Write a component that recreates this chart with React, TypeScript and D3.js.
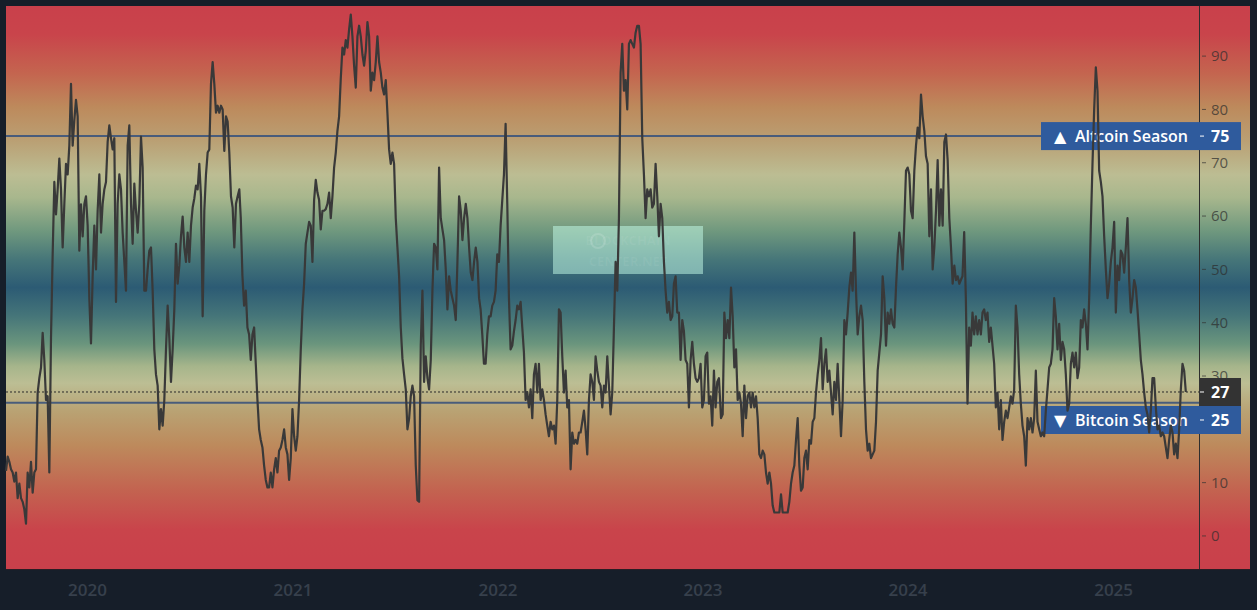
import React from "react";
import * as d3 from "d3";

const W = 1257;
const H = 610;

// Altcoin season index, sampled every STEP_DAYS days, five consecutive stretches
const SERIES_A = [12.2,14.9,13.9,12.5,11.9,10.2,11.9,7.1,9.8,7.1,6.4,5,2.3,11.9,9.1,13.9,8.1,11.9,12.5,26.9,29.6,31.6,38.1,33,25.5,26.2,11.9,37.1,52.8,66.4,60.3,65,70.8,65,54.1,62.2,69.8,67.8,73.2,84.8,73.2,78,81.8,78.7,53.5,62.2,56.2,62.2,63.7,58.2,44.6,36.1,48.7,58.2,50,61,67.8,56.9,62.3,65,66.4,73.9,77,74.6,72.5,74.6,43.9,62.3,67.8,65,56.9,51.4,46,73.2,77,62.3,54.8,66.1,61,56.9,62.3,74.9,69.1,46,46,50,53.5,54.1,46,35,30.3,28.2,20,23.8,20.7,25.5,35,43.2,37.1,28.9,35,42.5,54.8,47.3,50.7,56.2,59.9,54.1,51.4,56.9,51.4,58.2,61.6,63.3,65.7,65,69.8,63.7,41.2,61,67.8,71.9,72.5,84.8,88.9,84.8,79.4,80.7,79.4,80.7,80,72.2,78.7,77.7,71.9,63.7,61.6,54.1,62.3,63.7,65];
const SERIES_B = [59.6,48.7,43.2,46,39.1,37.8,33,37.8,39.1,32.3,25.5,20,18,16.6,13.2,10.5,9.1,9.1,11.9,9.1,12.5,14.6,11.9,16,16.6,18,20,16.6,15.3,10.5,14.6,23.8,18.7,16,18.7,25.5,35,42.5,47.3,54.8,56.9,58.9,58.2,51.4,63,66.8,64.4,63,57.5,61,61,61.3,62.3,64.4,59.6,63.7,69.1,71.9,76,78.7,85.8,91.6,90.3,93,91.6,95,97.8,93.7,88.2,84.1,93.7,95.7,93.7,90.3,88.2,91,96.4,93.7,83.5,86.9,85.5,88.9,93.7,88.9,86.9,84.1,82.8,85.5,79.3,72.5,69.8,71.9,69.8,59.6,54.1,48.7,39.1,33.3,30.3,27.5,20,22,26.2,28.2,26.2,13.2,6.7,6.4,35.7,46,28.9,33.7,29.6,27.5,33,46,54.8,54.1,50,69.1,59.6,57.5,55.5,50,42.5,48.7,46,44.6,43.2,40.5,51.4,63.7,61,55.5,59.6,62.3,59.6,54.1,49.4,48,51.4,54.1,51.4,44.6];
const SERIES_C = [42.5,37.8,32.3,32.3,37.8,41.2,41.2,43.2,43.9,46,52.8,51.4,58.2,63,67.8,77.3,62.3,44.6,35,35.7,38.4,40.5,43.2,42.5,43.9,39.1,34.4,25.5,27,24.1,27.5,22.1,30.3,32.3,26.9,32.3,25.5,27.5,25.5,22.8,20.7,18.7,21.4,20,20.7,17.3,25.5,42.5,41.9,33.7,26.9,31,24.1,25.5,12.5,19.4,17.3,18,17.3,19.4,19.4,21.4,23.5,20,15.3,25.5,30.3,28.9,25.5,33.7,31,28.9,28.2,24.1,28.2,26.9,33.7,28.2,22.8,26.9,39.1,51.4,46,59.6,86.9,92.3,83.5,85.5,80,92.3,93,92.3,91.6,94.4,95.7,95.7,92.3,74.6,67.8,59.6,65,63.7,65,61.6,62.3,69.8,63.7,56.2,62.3,59.6,51.4,46,41.9,43.9,40.5,41.2,47.3,48.7,41.9,41.9,33,40.5,38.4,33,32.3,24.1,33,36.4,32.3,29.6,28.9,29.6,32.3,24.1,25.5,33.7,34.4,24.8,26.2,20.7,31,24.1,28.9,29.6];
const SERIES_D = [22.1,22.8,41.9,37.1,40.5,37.1,46.6,41.2,31.6,35,25.5,26.9,24.8,18.7,28.2,22.1,26.2,26.9,24.1,26.9,24.1,26.2,22.1,15.3,14.6,16,15.3,11.9,9.8,11.9,9.8,5.7,4.4,4.4,4.4,4.4,7.8,4.4,4.4,4.4,4.4,6.4,9.8,11.9,13.2,18,22.1,13.2,8.5,9.1,14.6,16,12.5,18,17.3,21.4,22.1,26.9,30.3,33,37.1,27.5,32.3,35,28.9,31,26.9,22.8,28.9,25.5,32.3,25.5,18.7,25.5,40.5,37.8,41.9,46.6,49.4,46,56.9,46,37.8,41.2,43.2,40.5,28.9,20,16,17.3,14.6,15.3,16,21.4,31,34.4,37.8,48.7,44.6,35.7,41.9,39.8,42.5,39.8,39.1,46.6,52.8,56.9,54.1,50,58.9,68.5,69.1,67.8,61,59.6,68.5,73.2,76.6,74.6,82.8,78.7,76,71.2,69.8,56.2,65,50,54.1,61,70.5,58.2,65,58.2,73.9,75.3,70.5,59.6,54.1,47.3,50.7,48,48.7,47.3];
const SERIES_E = [48,48.7,57,44.6,24.8,39.1,35.7,41.9,37.8,41.2,37.8,40.5,37.8,41.9,42.5,40.5,41.9,36.4,39.1,35.7,32.3,24.1,26.9,20,25.5,18,21.4,23.5,22.1,24.1,26.2,24.8,27.5,43.2,39.1,30.3,24.8,20.7,18.7,13.2,22.1,20,22.1,19.4,22.1,31,21.4,20,18.7,19.4,18.7,23.5,27.5,31.6,32.3,35,44.6,41.2,35,39.8,33,36.4,35,30.3,23.5,24.8,32.3,34.4,31.6,34.4,29.6,31.6,40.5,39.1,42.5,39.8,35,44.6,58.2,69.8,80,87.9,83.5,68.5,66.4,63.7,56.2,50,44.6,47.3,51.4,54.1,58.9,41.9,50.7,48,53.5,52.8,49.4,54.1,59.6,48,41.9,44.6,48,46.6,42.5,37.8,33,30.3,26.9,24.1,22.8,19.4,23.5,29.6,29.6,24.1,20,20.7,18.7,19.4,18.7,16.6,14.6,18,20.7,19.4,15.3,17.3,14.6,20,27.5,32.3,31,27];
const SERIES = [SERIES_A, SERIES_B, SERIES_C, SERIES_D, SERIES_E];
const SERIES_STARTS = ["2019-08-09", "2020-09-30", "2021-12-01", "2023-02-02", "2024-04-04"];
const STEP_DAYS = 2.967;

const X_DOMAIN = ["2019-08-09", "2025-06-02"];
const YEAR_TICKS = ["2020", "2021", "2022", "2023", "2024", "2025"];
const Y_TICKS = [0, 10, 20, 30, 40, 50, 60, 70, 80, 90];
const Y_DOMAIN = [-6.2, 99.4];
const ALT_LEVEL = 75;
const BTC_LEVEL = 25;
const ALT_LABEL = "Altcoin Season";
const BTC_LABEL = "Bitcoin Season";

const parse = d3.timeParse("%Y-%m-%d");
const DAY = 86400000;

type Pt = { date: Date; value: number };

const data: Pt[] = [];
SERIES.forEach((vals, k) => {
  const start = parse(SERIES_STARTS[k])!.getTime();
  vals.forEach((v, j) => data.push({ date: new Date(start + j * STEP_DAYS * DAY), value: v }));
});
const LAST_VALUE = data[data.length - 1].value;

const PLOT = { left: 6, top: 6, right: 1250, bottom: 569, axisX: 1199 };

const GRADIENT_STOPS: [number, string][] = [
  [0, "#c9404b"], [0.05, "#c9444b"], [0.12, "#c4654f"], [0.18, "#bd8a5c"], [0.24, "#baa074"],
  [0.30, "#bcbd93"], [0.34, "#a8b78d"], [0.40, "#6f987e"], [0.45, "#467679"], [0.50, "#2c5b74"],
  [0.55, "#457579"], [0.60, "#6a957d"], [0.64, "#a6b58b"], [0.67, "#bcbe94"], [0.72, "#b9a273"],
  [0.78, "#bd8a5c"], [0.86, "#c36350"], [0.93, "#c9444b"], [1, "#c9404b"],
];

export default function App() {
  const x = d3.scaleTime()
    .domain(X_DOMAIN.map((d) => parse(d)!))
    .range([PLOT.left, PLOT.axisX]);
  const y = d3.scaleLinear().domain(Y_DOMAIN).range([PLOT.bottom, PLOT.top]);

  const line = d3.line<Pt>()
    .x((d) => x(d.date))
    .y((d) => y(d.value));

  const boxL = 1041, boxR = 1241, boxH = 28;
  const lastY = y(LAST_VALUE);
  const altY = y(ALT_LEVEL);
  const btcCenter = Math.max(y(BTC_LEVEL), lastY + boxH);
  const font = "'Open Sans', 'DejaVu Sans', sans-serif";

  // tick labels that sit entirely under a label box are not drawn (as in the source)
  const covered = (t: number) => {
    const ty = y(t);
    const boxes = [altY, lastY, btcCenter];
    return boxes.some((c) => ty - 4 >= c - boxH / 2 && ty + 4 <= c + boxH / 2);
  };

  return (
    <svg width={W} height={H} style={{ position: "absolute", left: 0, top: 0, display: "block" }}>
      <defs>
        <linearGradient id="bg" gradientUnits="userSpaceOnUse" x1={0} y1={PLOT.top} x2={0} y2={PLOT.bottom}>
          {GRADIENT_STOPS.map(([o, c], i) => <stop key={i} offset={o} stopColor={c} />)}
        </linearGradient>
        <clipPath id="above27">
          <rect x={PLOT.axisX} y={0} width={60} height={lastY - boxH / 2} />
        </clipPath>
      </defs>
      <rect x={0} y={0} width={W} height={H} fill="#161e29" />
      <rect x={PLOT.left} y={PLOT.top} width={PLOT.right - PLOT.left} height={PLOT.bottom - PLOT.top} fill="url(#bg)" />
      <line x1={PLOT.left} x2={PLOT.right} y1={PLOT.bottom + 0.5} y2={PLOT.bottom + 0.5} stroke="#2a1d24" strokeWidth={1} />

      {/* watermark */}
      <g>
        <rect x={553} y={226} width={150} height={48} fill="rgba(200,255,235,0.5)" />
        <circle cx={598} cy={241} r={7} fill="none" stroke="rgba(255,255,255,0.14)" strokeWidth={2} />
        <text x={628} y={245} fontFamily={font} fontSize={13} fill="rgba(255,255,255,0.06)" fontWeight={700} textAnchor="middle">BLOCKCHAIN</text>
        <text x={628} y={266} fontFamily={font} fontSize={13} fill="rgba(255,255,255,0.06)" fontWeight={700} textAnchor="middle">CENTER.NET</text>
      </g>

      {/* level lines */}
      <line x1={PLOT.left} x2={PLOT.axisX} y1={altY} y2={altY} stroke="#485c7b" strokeWidth={2} />
      <line x1={PLOT.left} x2={PLOT.axisX} y1={y(BTC_LEVEL)} y2={y(BTC_LEVEL)} stroke="#485c7b" strokeWidth={2} />
      <line x1={PLOT.left} x2={PLOT.axisX} y1={lastY} y2={lastY} stroke="#2a2a2a" strokeWidth={1} strokeDasharray="2 2" />

      {/* right axis */}
      <line x1={PLOT.axisX + 0.5} x2={PLOT.axisX + 0.5} y1={PLOT.top} y2={PLOT.bottom} stroke="#2e2e2e" strokeWidth={1} />
      {Y_TICKS.filter((t) => !covered(t)).map((t) => (
        <g key={t} clipPath={Math.abs(y(t) - lastY) < boxH ? "url(#above27)" : undefined}>
          <line x1={PLOT.axisX + 3} x2={PLOT.axisX + 7} y1={y(t)} y2={y(t)} stroke="rgba(50,50,50,0.7)" strokeWidth={1} />
          <text x={PLOT.axisX + 12} y={y(t)} dy="0.35em" fontFamily={font} fontSize={15} fill="rgba(45,45,45,0.72)">{t}</text>
        </g>
      ))}

      {/* bottom axis labels */}
      {YEAR_TICKS.map((yr) => (
        <text key={yr} x={x(parse(`${yr}-01-01`)!)} y={590} dy="0.35em" textAnchor="middle" fontFamily={font}
          fontSize={17} fontWeight={600} fill="#37404c">{yr}</text>
      ))}

      {/* label boxes */}
      <g fontFamily={font} fill="#fff">
        <rect x={boxL} y={altY - boxH / 2} width={boxR - boxL} height={boxH} fill="#2f5b9d" />
        <text x={1054} y={altY} dy="0.35em" fontSize={16}>▲</text>
        <text x={1075} y={altY} dy="0.35em" fontSize={16} fontWeight={600}>{ALT_LABEL}</text>
        <line x1={PLOT.axisX + 1} x2={PLOT.axisX + 5} y1={altY} y2={altY} stroke="#fff" strokeWidth={1} />
        <text x={PLOT.axisX + 12} y={altY} dy="0.35em" fontSize={16} fontWeight={700}>{ALT_LEVEL}</text>

        <rect x={PLOT.axisX} y={lastY - boxH / 2} width={boxR - PLOT.axisX} height={boxH} fill="#333333" />
        <line x1={PLOT.axisX + 1} x2={PLOT.axisX + 5} y1={lastY} y2={lastY} stroke="#fff" strokeWidth={1} />
        <text x={PLOT.axisX + 12} y={lastY} dy="0.35em" fontSize={16} fontWeight={700}>{LAST_VALUE}</text>

        <rect x={boxL} y={btcCenter - boxH / 2} width={boxR - boxL} height={boxH} fill="#2f5b9d" />
        <text x={1054} y={btcCenter} dy="0.35em" fontSize={16}>▼</text>
        <text x={1075} y={btcCenter} dy="0.35em" fontSize={16} fontWeight={600}>{BTC_LABEL}</text>
        <line x1={PLOT.axisX + 1} x2={PLOT.axisX + 5} y1={btcCenter} y2={btcCenter} stroke="#fff" strokeWidth={1} />
        <text x={PLOT.axisX + 12} y={btcCenter} dy="0.35em" fontSize={16} fontWeight={700}>{BTC_LEVEL}</text>
      </g>

      {/* index line */}
      <path d={line(data) ?? ""} fill="none" stroke="#393939" strokeWidth={2.2} strokeLinejoin="round" />
    </svg>
  );
}
